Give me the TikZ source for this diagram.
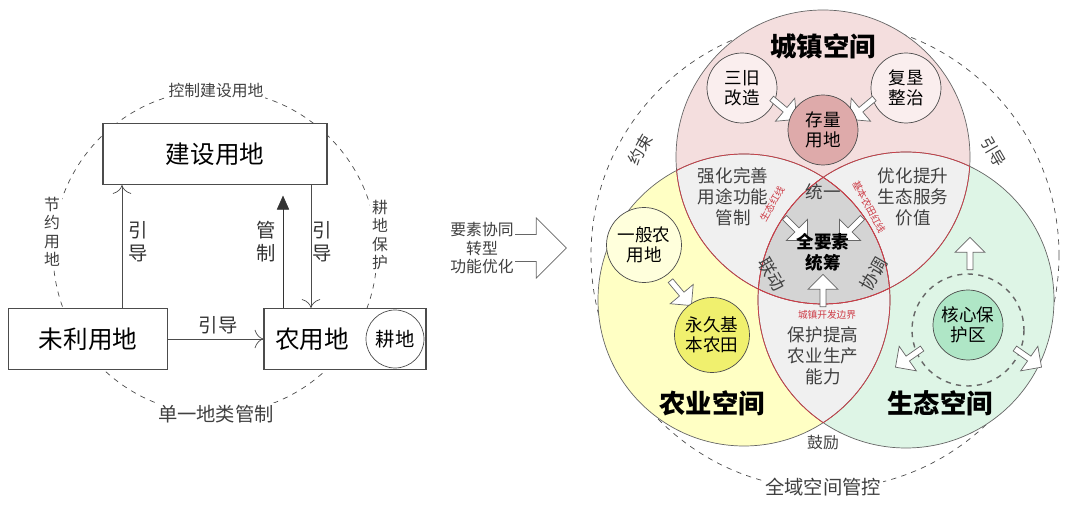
\documentclass[tikz,border=0pt]{standalone}
\usepackage{fontspec}
\setmainfont{Noto Sans CJK SC}
\usetikzlibrary{shapes.arrows,arrows.meta}
\definecolor{townpink}{RGB}{244,222,222}
\definecolor{farmyel}{RGB}{255,255,196}
\definecolor{ecogreen}{RGB}{222,245,230}
\definecolor{midgray}{RGB}{240,240,240}
\definecolor{coregray}{RGB}{212,212,212}
\definecolor{linered}{RGB}{205,60,70}
\begin{document}
\begin{tikzpicture}[x=0.02cm,y=-0.02cm]
  \tikzstyle{box}=[draw=black!70,semithick,minimum height=1.22cm,font=\fontsize{14}{15}\selectfont]
  \tikzstyle{blob}=[draw=black!70,circle,minimum size=1.4cm,inner sep=0pt,align=center,font=\fontsize{10}{11.5}\selectfont]
  \tikzstyle{lbl}=[font=\fontsize{9}{10.5}\selectfont,text=black!75,align=center,inner sep=1pt]
  \tikzstyle{arm}=[font=\fontsize{11}{13}\selectfont,text=black!80,align=center,inner sep=1pt]
  \tikzstyle{red lbl}=[font=\fontsize{5.5}{6}\selectfont,text=linered,inner sep=0pt]
  \tikzstyle{title}=[font=\fontsize{15}{16}\selectfont\bfseries,inner sep=1pt]
  \tikzstyle{hollow}=[single arrow,draw=black!60,fill=white,minimum height=0.65cm,minimum width=0.6cm,single arrow head extend=0.1cm,inner sep=0.5pt]
  \useasboundingbox (0,0) rectangle (1080,506);
  % left: single land-class control
  \draw[dashed,black!70] (215,252) circle[radius=162];
  \node[lbl,fill=white] (ctl) at (216,91) {控制建设用地};
  \node[lbl,fill=white] (save) at (52,232) {节\\约\\用\\地};
  \node[lbl,fill=white] (prot) at (380,235) {耕\\地\\保\\护};
  \node[lbl,fill=white,font=\fontsize{11}{12}\selectfont] (single) at (216,414) {单一地类管制};
  \node[box,fill=white,minimum width=4.48cm] (build) at (215,154) {建设用地};
  \node[box,fill=white,minimum width=3.18cm] (unused) at (88,339) {未利用地};
  \node[box,fill=white,minimum width=3.24cm,text width=2.8cm,align=left] (farm) at (345,339) {农用地};
  \node[blob,draw=black!70,minimum size=1.16cm,font=\fontsize{11}{12}\selectfont] (arable) at (395,339) {耕地};
  \draw[-{To[length=5pt]},black!70] (unused.north -| 122,0) -- (build.south -| 122,0);
  \draw[-{Triangle[length=8pt,width=7pt]},black!80] (farm.north -| 283,0) -- ([yshift=-6pt]build.south -| 283,0);
  \draw[-{To[length=5pt]},black!70] (build.south -| 311,0) -- (farm.north -| 311,0);
  \draw[-{To[length=5pt]},black!70] (unused) -- (farm);
  \node[arm] at (138,242) {引\\导};
  \node[arm] at (266,242) {管\\制};
  \node[arm] at (322,242) {引\\导};
  \node[arm] at (218,325) {引导};
  % transition arrow
  \node[single arrow,draw=black!60,minimum height=2.3cm,minimum width=1.2cm,single arrow head extend=0.15cm] (shift) at (502,248) {};
  \node[lbl,fill=white,inner sep=0.5pt] at (482,248) {要素协同\\转型\\功能优化};
  % right: whole-territory control
  \draw[dashed,black!70] (825,255) circle[radius=234];
  \fill[townpink] (823,157) circle[radius=147];
  \fill[farmyel] (744,300) circle[radius=146];
  \fill[ecogreen] (906,300) circle[radius=148];
  \begin{scope}
    \clip (823,157) circle[radius=147];
    \fill[midgray] (744,300) circle[radius=146];
    \fill[midgray] (906,300) circle[radius=148];
  \end{scope}
  \begin{scope}
    \clip (744,300) circle[radius=146];
    \fill[midgray] (906,300) circle[radius=148];
    \clip (906,300) circle[radius=148];
    \fill[coregray] (823,157) circle[radius=147];
  \end{scope}
  \draw[black!60] (823,157) circle[radius=147] (744,300) circle[radius=146] (906,300) circle[radius=148];
  \begin{scope}
    \clip (823,157) circle[radius=147];
    \draw[linered] (744,300) circle[radius=146] (906,300) circle[radius=148];
  \end{scope}
  \begin{scope}
    \clip (744,300) circle[radius=146];
    \draw[linered] (823,157) circle[radius=147] (906,300) circle[radius=148];
  \end{scope}
  \begin{scope}
    \clip (906,300) circle[radius=148];
    \draw[linered] (823,157) circle[radius=147] (744,300) circle[radius=146];
  \end{scope}
  \node[title] (town) at (823,46) {城镇空间};
  \node[title] (agri) at (712,403) {农业空间};
  \node[title] (eco) at (940,403) {生态空间};
  \node[blob,fill=townpink!50] (renew) at (742,88) {三旧\\改造};
  \node[blob,fill=townpink!50] (recl) at (906,88) {复垦\\整治};
  \node[hollow,rotate=-40] at (783,108) {};
  \node[hollow,rotate=-140] at (863,108) {};
  \node[blob,fill={rgb,255:red,222;green,170;blue,170}] (stock) at (823,130) {存量\\用地};
  \node[blob,fill=farmyel!60,minimum size=1.5cm] (general) at (644,245) {一般农\\用地};
  \node[hollow,rotate=-50] at (680,292) {};
  \node[blob,fill={rgb,255:red,240;green,240;blue,110},minimum size=1.5cm] (basic) at (712,335) {永久基\\本农田};
  \draw[dashed,black!60,thick] (968,330) circle[radius=56];
  \node[blob,fill={rgb,255:red,175;green,230;blue,198},minimum size=1.4cm] (core) at (968,325) {核心保\\护区};
  \node[hollow,rotate=-45] at (795,228) {};
  \node[hollow,rotate=-135] at (852,228) {};
  \node[hollow,rotate=90] at (823,292) {};
  \node[hollow,rotate=90] at (970,255) {};
  \node[hollow,rotate=-145] at (910,357) {};
  \node[hollow,rotate=-35] at (1027,357) {};
  \node[lbl,font=\fontsize{10}{12}\selectfont] (strong) at (733,197) {强化完善\\用途功能\\管制};
  \node[lbl,font=\fontsize{10}{12}\selectfont] (optim) at (913,197) {优化提升\\生态服务\\价值};
  \node[lbl,font=\fontsize{10}{12}\selectfont] (protect) at (823,356) {保护提高\\农业生产\\能力};
  \node[lbl,font=\fontsize{10}{12}\selectfont] at (823,192) {统一};
  \node[lbl,font=\fontsize{10}{12}\selectfont\bfseries,text=black] (all) at (823,252) {全要素\\统筹};
  \node[lbl,font=\fontsize{10}{12}\selectfont,rotate=-60] at (772,274) {联动};
  \node[lbl,font=\fontsize{10}{12}\selectfont,rotate=60] at (874,274) {协调};
  \node[red lbl,rotate=60] at (772,204) {生态红线};
  \node[red lbl,rotate=-62] at (869,207) {基本农田红线};
  \node[red lbl] at (827,315) {城镇开发边界};
  \node[lbl,fill=white,rotate=60] at (640,150) {约束};
  \node[lbl,fill=white,rotate=-60] at (994,152) {引导};
  \node[lbl] at (823,443) {鼓励};
  \node[lbl,fill=white,font=\fontsize{11}{12}\selectfont] at (823,487) {全域空间管控};
\end{tikzpicture}
\end{document}
